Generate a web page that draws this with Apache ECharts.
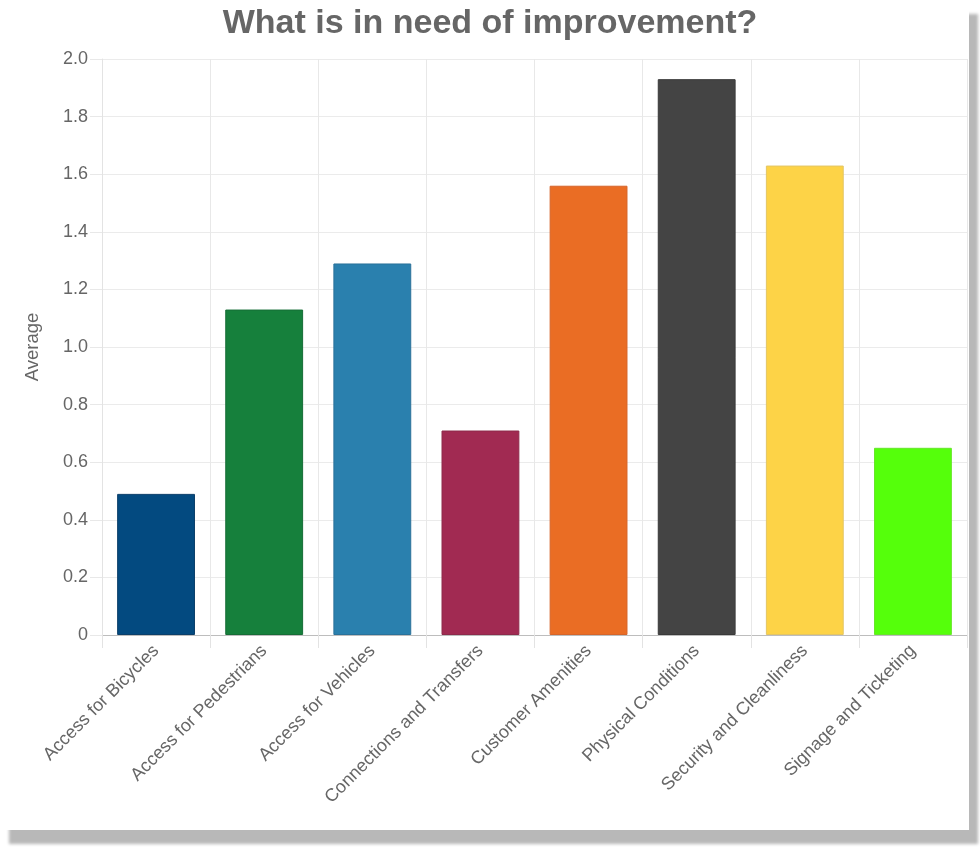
<!DOCTYPE html>
<html>
<head>
<meta charset="utf-8">
<script src="https://cdn.jsdelivr.net/npm/echarts@6/dist/echarts.min.js"></script>
<style>
html,body{margin:0;padding:0;background:#fff;width:980px;height:847px;overflow:hidden;}
#card{position:absolute;left:0;top:0;width:969px;height:830px;background:#fff;box-shadow:9px 14px 3px #b8b8b8;}
#chart{position:absolute;left:0;top:0;width:980px;height:847px;}
</style>
</head>
<body>
<div id="card"></div>
<div id="chart"></div>
<script>
const categories = ["Access for Bicycles","Access for Pedestrians","Access for Vehicles","Connections and Transfers","Customer Amenities","Physical Conditions","Security and Cleanliness","Signage and Ticketing"];
const values = [0.49, 1.13, 1.29, 0.71, 1.56, 1.93, 1.63, 0.65];
const barColors = ["#034a80","#16803c","#2a80ae","#a12a52","#ea6d24","#444444","#fdd347","#55ff0b"];
const borderColors = ["#0c3f6a","#166d36","#2a719a","#8d2a4b","#d6652a","#3a3a3a","#e3c565","#66e62a"];
const yTicks = ["0","0.2","0.4","0.6","0.8","1.0","1.2","1.4","1.6","1.8","2.0"];

const chart = echarts.init(document.getElementById('chart'));
chart.setOption({
  backgroundColor: 'transparent',
  animation: false,
  title: {
    text: 'What is in need of improvement?',
    left: 'center', top: 2,
    textStyle: {fontFamily: 'Liberation Sans', fontSize: 34, fontWeight: 'bold', color: '#666'}
  },
  grid: {left: 102, right: 13, top: 59, bottom: 212},
  xAxis: {
    type: 'category',
    data: categories,
    axisLine: {lineStyle: {color: '#bdbdbd', width: 1}},
    axisTick: {show: true, length: 13, lineStyle: {color: '#e3e3e3'}},
    splitLine: {show: true, lineStyle: {color: '#e8e8e8'}},
    axisLabel: {rotate: 45, fontFamily: 'Liberation Sans', fontSize: 18, color: '#666', margin: 13, interval: 0}
  },
  yAxis: {
    type: 'value', min: 0, max: 2, interval: 0.2,
    name: 'Average', nameLocation: 'middle', nameGap: 60,
    nameTextStyle: {fontFamily: 'Liberation Sans', fontSize: 18.5, color: '#666'},
    axisLine: {show: true, lineStyle: {color: '#e3e3e3'}},
    axisTick: {show: true, length: 12, lineStyle: {color: '#e8e8e8'}},
    splitLine: {show: true, lineStyle: {color: '#ebebeb'}},
    axisLabel: {fontFamily: 'Liberation Sans', fontSize: 18, color: '#666', margin: 14,
      formatter: function (v) { return yTicks[Math.round(v / 0.2)]; }}
  },
  series: [{
    type: 'bar',
    barCategoryGap: '28%',
    data: values.map((v, i) => ({value: v, itemStyle: {color: barColors[i], borderColor: borderColors[i], borderWidth: 1}}))
  }]
});
</script>
</body>
</html>
